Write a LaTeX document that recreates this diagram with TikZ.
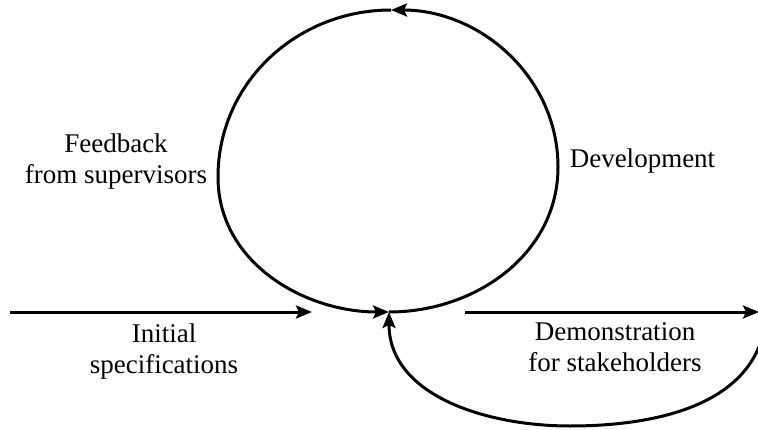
\documentclass[tikz,border=0pt]{standalone}
\usepackage{fontspec}
\setmainfont{Liberation Serif}
\usetikzlibrary{arrows.meta}
\begin{document}
\begin{tikzpicture}[x=1pt,y=1pt,
  flow/.style={line width=3pt,-{Stealth[length=16pt,width=13pt,inset=3pt]}},
  lbl/.style={align=center,font=\fontsize{27}{31}\selectfont,inner sep=0pt}]
\useasboundingbox (0,0) rectangle (758,429);
\coordinate (C) at (389,117);
\coordinate (T) at (391,419);
\coordinate (L) at (218,252);
\coordinate (R) at (558,262);
\coordinate (A0) at (10,117);
\coordinate (A1) at (312,117);
\coordinate (B0) at (465,117);
\coordinate (B1) at (759,117);
\coordinate (D) at (766,112);
\coordinate (E) at (389,117);
\draw[flow] (A0) -- (A1);
\draw[flow] (B0) -- (B1);
\draw[flow] (C) to[out=0,in=-90] (R) to[out=90,in=0] (T);
\draw[flow] (T) to[out=180,in=90] (L) to[out=-90,in=180] (C);
\draw[flow] (D) to[out=-95,in=0] (570,3) to[out=180,in=-90] (E);
\node[lbl] (fb) at (116,267.5) {Feedback\\from supervisors};
\node[lbl] (dev) at (642.5,267.5) {Development};
\node[lbl] (is) at (164,77.5) {Initial\\specifications};
\node[lbl] (ds) at (615,82) {Demonstration\\for stakeholders};
\end{tikzpicture}
\end{document}
